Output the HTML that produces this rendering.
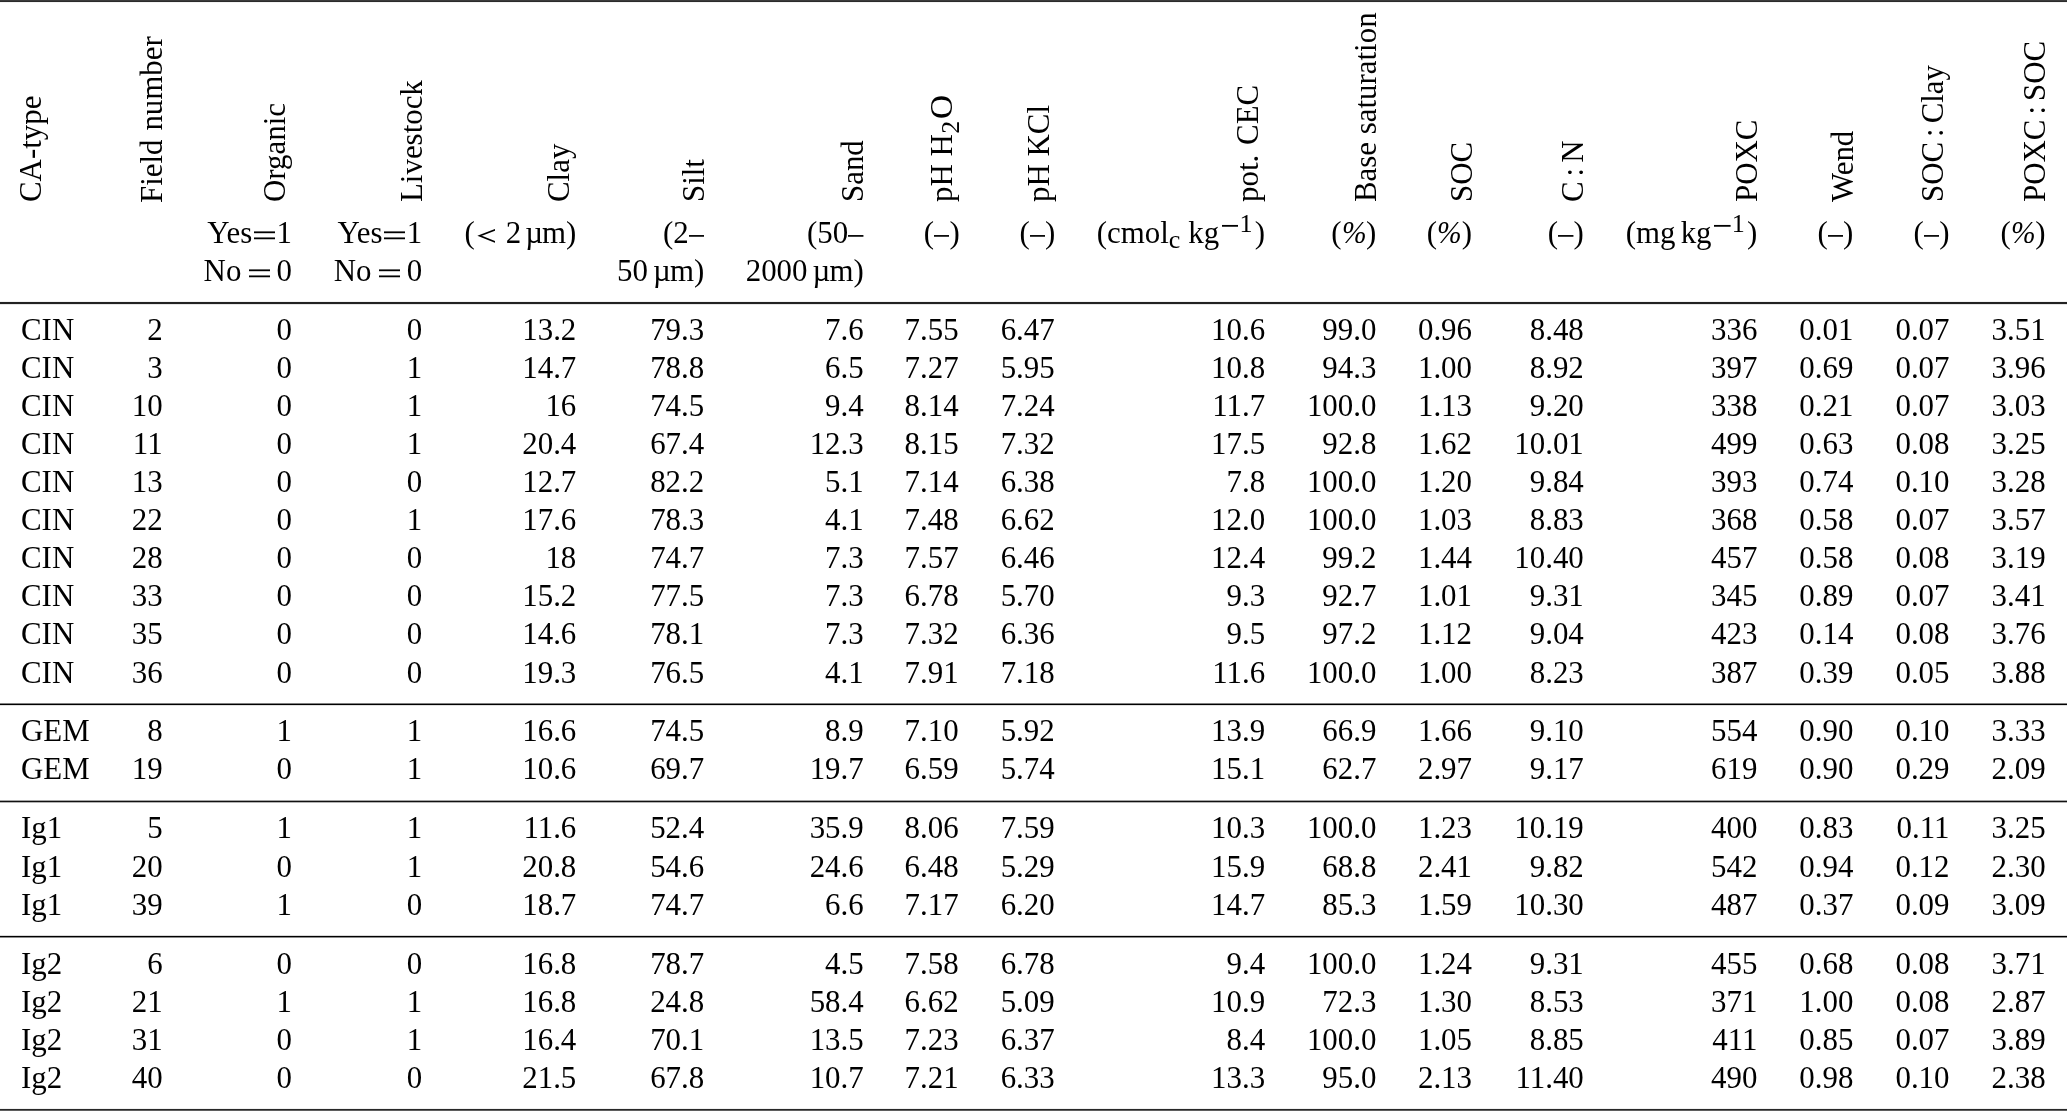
<!DOCTYPE html>
<html><head><meta charset="utf-8"><title>Table</title>
<style>
html,body{margin:0;padding:0;background:#fff}
body{width:2067px;height:1111px;position:relative;overflow:hidden;font-family:"Liberation Serif",serif;font-size:30.9px;color:#000}
#t{position:absolute;left:0;top:0;width:2067px;height:1111px;will-change:transform}
.hl{position:absolute;left:0;width:2067px;height:1px}
.r{position:absolute;left:0;width:2067px;height:40px;line-height:40px}
.r span{position:absolute;top:0;white-space:nowrap}
.v{position:absolute;white-space:nowrap;height:40px;line-height:40px;transform-origin:0 30.0px;transform:rotate(-90deg)}
i.s{display:inline-block;height:1px}
em{font-style:italic;display:inline-block;width:24.6px;transform-origin:0 50%;transform:scaleX(.957)}
svg.lt{width:18.4px;height:15px;vertical-align:baseline;margin:0 10.4px 0 2.15px}
svg.en{width:15.45px;height:10px;vertical-align:baseline}
svg.eq{width:21.4px;height:12px;vertical-align:baseline}
svg.mn{width:16.6px;height:8px;vertical-align:baseline;margin:0 1.0px 0 2.6px}
sub,sup{font-size:26px;line-height:0;vertical-align:baseline;position:relative}
sub{top:4.8px}
sup{top:-11.5px}
sub.h2{top:7px;margin:0 1.8px 0 0.4px}
b.lt{display:inline-block;font-weight:normal;transform:scaleX(1.29);transform-origin:0 50%}
b.O{font-weight:normal;display:inline-block;width:24px;transform-origin:0 50%;transform:scaleX(1.075)}
i.n{display:inline-block;width:0;margin-left:-1px}
</style></head>
<body>
<div id="t">
<div class="hl" style="top:0px;background:#3c3c3c"></div>
<div class="hl" style="top:1px;background:#2b2b2b"></div>
<div class="hl" style="top:2px;background:#f3f3f3"></div>
<div class="hl" style="top:301px;background:#f2f2f2"></div>
<div class="hl" style="top:302px;background:#222"></div>
<div class="hl" style="top:303px;background:#222"></div>
<div class="hl" style="top:304px;background:#e6e6e6"></div>
<div class="hl" style="top:703px;background:#808080"></div>
<div class="hl" style="top:704px;background:#000"></div>
<div class="hl" style="top:705px;background:#e0e0e0"></div>
<div class="hl" style="top:800px;background:#a6a6a6"></div>
<div class="hl" style="top:801px;background:#111"></div>
<div class="hl" style="top:802px;background:#b3b3b3"></div>
<div class="hl" style="top:935px;background:#d9d9d9"></div>
<div class="hl" style="top:936px;background:#000"></div>
<div class="hl" style="top:937px;background:#8c8c8c"></div>
<div class="hl" style="top:1108px;background:#f0f0f0"></div>
<div class="hl" style="top:1109px;background:#272727"></div>
<div class="hl" style="top:1110px;background:#5f5f5f"></div>
<div class="r" style="top:310px"><span style="left:21.0px">CIN</span><span style="right:1904.4px">2</span><span style="right:1775.0px">0</span><span style="right:1644.8px">0</span><span style="right:1490.7px">13.2</span><span style="right:1362.8px">79.3</span><span style="right:1203.3px">7.6</span><span style="right:1108.4px">7.55</span><span style="right:1012.3px">6.47</span><span style="right:801.9px">10.6</span><span style="right:690.6px">99.0</span><span style="right:595.0px">0.96</span><span style="right:483.2px">8.48</span><span style="right:309.6px">336</span><span style="right:213.6px">0.01</span><span style="right:117.5px">0.07</span><span style="right:21.4px">3.51</span></div>
<div class="r" style="top:348px"><span style="left:21.0px">CIN</span><span style="right:1904.4px">3</span><span style="right:1775.0px">0</span><span style="right:1644.8px">1</span><span style="right:1490.7px">14.7</span><span style="right:1362.8px">78.8</span><span style="right:1203.3px">6.5</span><span style="right:1108.4px">7.27</span><span style="right:1012.3px">5.95</span><span style="right:801.9px">10.8</span><span style="right:690.6px">94.3</span><span style="right:595.0px">1.00</span><span style="right:483.2px">8.92</span><span style="right:309.6px">397</span><span style="right:213.6px">0.69</span><span style="right:117.5px">0.07</span><span style="right:21.4px">3.96</span></div>
<div class="r" style="top:386px"><span style="left:21.0px">CIN</span><span style="right:1904.4px">10</span><span style="right:1775.0px">0</span><span style="right:1644.8px">1</span><span style="right:1490.7px">16</span><span style="right:1362.8px">74.5</span><span style="right:1203.3px">9.4</span><span style="right:1108.4px">8.14</span><span style="right:1012.3px">7.24</span><span style="right:801.9px">11.7</span><span style="right:690.6px">100.0</span><span style="right:595.0px">1.13</span><span style="right:483.2px">9.20</span><span style="right:309.6px">338</span><span style="right:213.6px">0.21</span><span style="right:117.5px">0.07</span><span style="right:21.4px">3.03</span></div>
<div class="r" style="top:424px"><span style="left:21.0px">CIN</span><span style="right:1904.4px">11</span><span style="right:1775.0px">0</span><span style="right:1644.8px">1</span><span style="right:1490.7px">20.4</span><span style="right:1362.8px">67.4</span><span style="right:1203.3px">12.3</span><span style="right:1108.4px">8.15</span><span style="right:1012.3px">7.32</span><span style="right:801.9px">17.5</span><span style="right:690.6px">92.8</span><span style="right:595.0px">1.62</span><span style="right:483.2px">10.01</span><span style="right:309.6px">499</span><span style="right:213.6px">0.63</span><span style="right:117.5px">0.08</span><span style="right:21.4px">3.25</span></div>
<div class="r" style="top:462px"><span style="left:21.0px">CIN</span><span style="right:1904.4px">13</span><span style="right:1775.0px">0</span><span style="right:1644.8px">0</span><span style="right:1490.7px">12.7</span><span style="right:1362.8px">82.2</span><span style="right:1203.3px">5.1</span><span style="right:1108.4px">7.14</span><span style="right:1012.3px">6.38</span><span style="right:801.9px">7.8</span><span style="right:690.6px">100.0</span><span style="right:595.0px">1.20</span><span style="right:483.2px">9.84</span><span style="right:309.6px">393</span><span style="right:213.6px">0.74</span><span style="right:117.5px">0.10</span><span style="right:21.4px">3.28</span></div>
<div class="r" style="top:500px"><span style="left:21.0px">CIN</span><span style="right:1904.4px">22</span><span style="right:1775.0px">0</span><span style="right:1644.8px">1</span><span style="right:1490.7px">17.6</span><span style="right:1362.8px">78.3</span><span style="right:1203.3px">4.1</span><span style="right:1108.4px">7.48</span><span style="right:1012.3px">6.62</span><span style="right:801.9px">12.0</span><span style="right:690.6px">100.0</span><span style="right:595.0px">1.03</span><span style="right:483.2px">8.83</span><span style="right:309.6px">368</span><span style="right:213.6px">0.58</span><span style="right:117.5px">0.07</span><span style="right:21.4px">3.57</span></div>
<div class="r" style="top:538px"><span style="left:21.0px">CIN</span><span style="right:1904.4px">28</span><span style="right:1775.0px">0</span><span style="right:1644.8px">0</span><span style="right:1490.7px">18</span><span style="right:1362.8px">74.7</span><span style="right:1203.3px">7.3</span><span style="right:1108.4px">7.57</span><span style="right:1012.3px">6.46</span><span style="right:801.9px">12.4</span><span style="right:690.6px">99.2</span><span style="right:595.0px">1.44</span><span style="right:483.2px">10.40</span><span style="right:309.6px">457</span><span style="right:213.6px">0.58</span><span style="right:117.5px">0.08</span><span style="right:21.4px">3.19</span></div>
<div class="r" style="top:576px"><span style="left:21.0px">CIN</span><span style="right:1904.4px">33</span><span style="right:1775.0px">0</span><span style="right:1644.8px">0</span><span style="right:1490.7px">15.2</span><span style="right:1362.8px">77.5</span><span style="right:1203.3px">7.3</span><span style="right:1108.4px">6.78</span><span style="right:1012.3px">5.70</span><span style="right:801.9px">9.3</span><span style="right:690.6px">92.7</span><span style="right:595.0px">1.01</span><span style="right:483.2px">9.31</span><span style="right:309.6px">345</span><span style="right:213.6px">0.89</span><span style="right:117.5px">0.07</span><span style="right:21.4px">3.41</span></div>
<div class="r" style="top:614px"><span style="left:21.0px">CIN</span><span style="right:1904.4px">35</span><span style="right:1775.0px">0</span><span style="right:1644.8px">0</span><span style="right:1490.7px">14.6</span><span style="right:1362.8px">78.1</span><span style="right:1203.3px">7.3</span><span style="right:1108.4px">7.32</span><span style="right:1012.3px">6.36</span><span style="right:801.9px">9.5</span><span style="right:690.6px">97.2</span><span style="right:595.0px">1.12</span><span style="right:483.2px">9.04</span><span style="right:309.6px">423</span><span style="right:213.6px">0.14</span><span style="right:117.5px">0.08</span><span style="right:21.4px">3.76</span></div>
<div class="r" style="top:653px"><span style="left:21.0px">CIN</span><span style="right:1904.4px">36</span><span style="right:1775.0px">0</span><span style="right:1644.8px">0</span><span style="right:1490.7px">19.3</span><span style="right:1362.8px">76.5</span><span style="right:1203.3px">4.1</span><span style="right:1108.4px">7.91</span><span style="right:1012.3px">7.18</span><span style="right:801.9px">11.6</span><span style="right:690.6px">100.0</span><span style="right:595.0px">1.00</span><span style="right:483.2px">8.23</span><span style="right:309.6px">387</span><span style="right:213.6px">0.39</span><span style="right:117.5px">0.05</span><span style="right:21.4px">3.88</span></div>
<div class="r" style="top:711px"><span style="left:21.0px">GEM</span><span style="right:1904.4px">8</span><span style="right:1775.0px">1</span><span style="right:1644.8px">1</span><span style="right:1490.7px">16.6</span><span style="right:1362.8px">74.5</span><span style="right:1203.3px">8.9</span><span style="right:1108.4px">7.10</span><span style="right:1012.3px">5.92</span><span style="right:801.9px">13.9</span><span style="right:690.6px">66.9</span><span style="right:595.0px">1.66</span><span style="right:483.2px">9.10</span><span style="right:309.6px">554</span><span style="right:213.6px">0.90</span><span style="right:117.5px">0.10</span><span style="right:21.4px">3.33</span></div>
<div class="r" style="top:749px"><span style="left:21.0px">GEM</span><span style="right:1904.4px">19</span><span style="right:1775.0px">0</span><span style="right:1644.8px">1</span><span style="right:1490.7px">10.6</span><span style="right:1362.8px">69.7</span><span style="right:1203.3px">19.7</span><span style="right:1108.4px">6.59</span><span style="right:1012.3px">5.74</span><span style="right:801.9px">15.1</span><span style="right:690.6px">62.7</span><span style="right:595.0px">2.97</span><span style="right:483.2px">9.17</span><span style="right:309.6px">619</span><span style="right:213.6px">0.90</span><span style="right:117.5px">0.29</span><span style="right:21.4px">2.09</span></div>
<div class="r" style="top:808px"><span style="left:21.0px">Ig1</span><span style="right:1904.4px">5</span><span style="right:1775.0px">1</span><span style="right:1644.8px">1</span><span style="right:1490.7px">11.6</span><span style="right:1362.8px">52.4</span><span style="right:1203.3px">35.9</span><span style="right:1108.4px">8.06</span><span style="right:1012.3px">7.59</span><span style="right:801.9px">10.3</span><span style="right:690.6px">100.0</span><span style="right:595.0px">1.23</span><span style="right:483.2px">10.19</span><span style="right:309.6px">400</span><span style="right:213.6px">0.83</span><span style="right:117.5px">0.11</span><span style="right:21.4px">3.25</span></div>
<div class="r" style="top:847px"><span style="left:21.0px">Ig1</span><span style="right:1904.4px">20</span><span style="right:1775.0px">0</span><span style="right:1644.8px">1</span><span style="right:1490.7px">20.8</span><span style="right:1362.8px">54.6</span><span style="right:1203.3px">24.6</span><span style="right:1108.4px">6.48</span><span style="right:1012.3px">5.29</span><span style="right:801.9px">15.9</span><span style="right:690.6px">68.8</span><span style="right:595.0px">2.41</span><span style="right:483.2px">9.82</span><span style="right:309.6px">542</span><span style="right:213.6px">0.94</span><span style="right:117.5px">0.12</span><span style="right:21.4px">2.30</span></div>
<div class="r" style="top:885px"><span style="left:21.0px">Ig1</span><span style="right:1904.4px">39</span><span style="right:1775.0px">1</span><span style="right:1644.8px">0</span><span style="right:1490.7px">18.7</span><span style="right:1362.8px">74.7</span><span style="right:1203.3px">6.6</span><span style="right:1108.4px">7.17</span><span style="right:1012.3px">6.20</span><span style="right:801.9px">14.7</span><span style="right:690.6px">85.3</span><span style="right:595.0px">1.59</span><span style="right:483.2px">10.30</span><span style="right:309.6px">487</span><span style="right:213.6px">0.37</span><span style="right:117.5px">0.09</span><span style="right:21.4px">3.09</span></div>
<div class="r" style="top:944px"><span style="left:21.0px">Ig2</span><span style="right:1904.4px">6</span><span style="right:1775.0px">0</span><span style="right:1644.8px">0</span><span style="right:1490.7px">16.8</span><span style="right:1362.8px">78.7</span><span style="right:1203.3px">4.5</span><span style="right:1108.4px">7.58</span><span style="right:1012.3px">6.78</span><span style="right:801.9px">9.4</span><span style="right:690.6px">100.0</span><span style="right:595.0px">1.24</span><span style="right:483.2px">9.31</span><span style="right:309.6px">455</span><span style="right:213.6px">0.68</span><span style="right:117.5px">0.08</span><span style="right:21.4px">3.71</span></div>
<div class="r" style="top:982px"><span style="left:21.0px">Ig2</span><span style="right:1904.4px">21</span><span style="right:1775.0px">1</span><span style="right:1644.8px">1</span><span style="right:1490.7px">16.8</span><span style="right:1362.8px">24.8</span><span style="right:1203.3px">58.4</span><span style="right:1108.4px">6.62</span><span style="right:1012.3px">5.09</span><span style="right:801.9px">10.9</span><span style="right:690.6px">72.3</span><span style="right:595.0px">1.30</span><span style="right:483.2px">8.53</span><span style="right:309.6px">371</span><span style="right:213.6px">1.00</span><span style="right:117.5px">0.08</span><span style="right:21.4px">2.87</span></div>
<div class="r" style="top:1020px"><span style="left:21.0px">Ig2</span><span style="right:1904.4px">31</span><span style="right:1775.0px">0</span><span style="right:1644.8px">1</span><span style="right:1490.7px">16.4</span><span style="right:1362.8px">70.1</span><span style="right:1203.3px">13.5</span><span style="right:1108.4px">7.23</span><span style="right:1012.3px">6.37</span><span style="right:801.9px">8.4</span><span style="right:690.6px">100.0</span><span style="right:595.0px">1.05</span><span style="right:483.2px">8.85</span><span style="right:309.6px">411</span><span style="right:213.6px">0.85</span><span style="right:117.5px">0.07</span><span style="right:21.4px">3.89</span></div>
<div class="r" style="top:1058px"><span style="left:21.0px">Ig2</span><span style="right:1904.4px">40</span><span style="right:1775.0px">0</span><span style="right:1644.8px">0</span><span style="right:1490.7px">21.5</span><span style="right:1362.8px">67.8</span><span style="right:1203.3px">10.7</span><span style="right:1108.4px">7.21</span><span style="right:1012.3px">6.33</span><span style="right:801.9px">13.3</span><span style="right:690.6px">95.0</span><span style="right:595.0px">2.13</span><span style="right:483.2px">11.40</span><span style="right:309.6px">490</span><span style="right:213.6px">0.98</span><span style="right:117.5px">0.10</span><span style="right:21.4px">2.38</span></div>
<div class="r" style="top:213px"><span style="right:1775.0px">Yes<svg class="eq" viewBox="0 0 21.4 12" style="margin:0 1.4px 0 1.5px"><rect x="0" y="0.4" width="21.4" height="1.8"/><rect x="0" y="6.45" width="21.4" height="1.8"/></svg>1</span><span style="right:1644.8px">Yes<svg class="eq" viewBox="0 0 21.4 12" style="margin:0 1.4px 0 1.5px"><rect x="0" y="0.4" width="21.4" height="1.8"/><rect x="0" y="6.45" width="21.4" height="1.8"/></svg>1</span><span style="right:1490.7px">(<svg class="lt" viewBox="0 0 18.4 15"><polyline points="18.2,1.75 2.7,7.8 18.2,13.9" fill="none" stroke="#000" stroke-width="1.7" stroke-miterlimit="10"/></svg>2<i class="s" style="width:4.1px"></i>µ<i class="n"></i>m)</span><span style="right:1362.8px">(2<svg class="en" viewBox="0 0 15.45 10"><rect x="0" y="2.05" width="15.45" height="1.7"/></svg></span><span style="right:1203.3px">(50<svg class="en" viewBox="0 0 15.45 10"><rect x="0" y="2.05" width="15.45" height="1.7"/></svg></span><span style="right:1107.3px">(<svg class="en" viewBox="0 0 15.45 10"><rect x="0" y="2.05" width="15.45" height="1.7"/></svg>)</span><span style="right:1011.6px">(<svg class="en" viewBox="0 0 15.45 10"><rect x="0" y="2.05" width="15.45" height="1.7"/></svg>)</span><span style="right:801.9px">(cmol<sub>c</sub><i class="s" style="width:8.05px"></i>kg<sup><svg class="mn" viewBox="0 0 16.6 8"><rect x="0" y="0.95" width="16.6" height="1.8"/></svg>1</sup><i class="s" style="width:2.4px"></i>)</span><span style="right:690.6px">(<em>%</em>)</span><span style="right:595.0px">(<em>%</em>)</span><span style="right:483.2px">(<svg class="en" viewBox="0 0 15.45 10"><rect x="0" y="2.05" width="15.45" height="1.7"/></svg>)</span><span style="right:309.6px">(mg<i class="s" style="width:5.1px"></i>kg<sup><svg class="mn" viewBox="0 0 16.6 8"><rect x="0" y="0.95" width="16.6" height="1.8"/></svg>1</sup><i class="s" style="width:2.4px"></i>)</span><span style="right:213.6px">(<svg class="en" viewBox="0 0 15.45 10"><rect x="0" y="2.05" width="15.45" height="1.7"/></svg>)</span><span style="right:117.5px">(<svg class="en" viewBox="0 0 15.45 10"><rect x="0" y="2.05" width="15.45" height="1.7"/></svg>)</span><span style="right:21.4px">(<em>%</em>)</span></div>
<div class="r" style="top:251px"><span style="right:1775.0px">No<svg class="eq" viewBox="0 0 21.4 12" style="margin:0 6.6px 0 7.2px"><rect x="0" y="0.4" width="21.4" height="1.8"/><rect x="0" y="6.45" width="21.4" height="1.8"/></svg>0</span><span style="right:1644.8px">No<svg class="eq" viewBox="0 0 21.4 12" style="margin:0 6.6px 0 7.2px"><rect x="0" y="0.4" width="21.4" height="1.8"/><rect x="0" y="6.45" width="21.4" height="1.8"/></svg>0</span><span style="right:1362.8px">50<i class="s" style="width:5.1px"></i>µ<i class="n"></i>m)</span><span style="right:1203.3px">2000<i class="s" style="width:5.1px"></i>µ<i class="n"></i>m)</span></div>
<div class="v" style="left:41.0px;top:172.0px">CA-type</div>
<div class="v" style="left:162.0px;top:173.0px">Field<i class="s" style="width:1.2px"></i> number</div>
<div class="v" style="left:284.9px;top:172.0px">Organic</div>
<div class="v" style="left:421.7px;top:172.0px">Livestock</div>
<div class="v" style="left:569.2px;top:172.0px">Clay</div>
<div class="v" style="left:703.7px;top:172.0px">Silt</div>
<div class="v" style="left:863.2px;top:172.0px">Sand</div>
<div class="v" style="left:952.0px;top:172.0px">pH H<sub class="h2">2</sub><b class="O">O</b></div>
<div class="v" style="left:1048.5px;top:172.0px">pH KCl</div>
<div class="v" style="left:1258.0px;top:172.0px">pot.<i class="s" style="width:2.2px"></i> CEC</div>
<div class="v" style="left:1376.0px;top:172.0px">Base saturation</div>
<div class="v" style="left:1472.0px;top:172.0px">SOC</div>
<div class="v" style="left:1583.4px;top:172.0px">C<i class="s" style="width:5px"></i>:<i class="s" style="width:5px"></i>N</div>
<div class="v" style="left:1757.0px;top:172.0px">POXC</div>
<div class="v" style="left:1853.2px;top:172.0px">Wend</div>
<div class="v" style="left:1943.0px;top:172.0px">SOC<i class="s" style="width:5px"></i>:<i class="s" style="width:5px"></i>Clay</div>
<div class="v" style="left:2045.0px;top:172.0px">POXC<i class="s" style="width:5px"></i>:<i class="s" style="width:5px"></i>SOC</div>
</div>
</body></html>
